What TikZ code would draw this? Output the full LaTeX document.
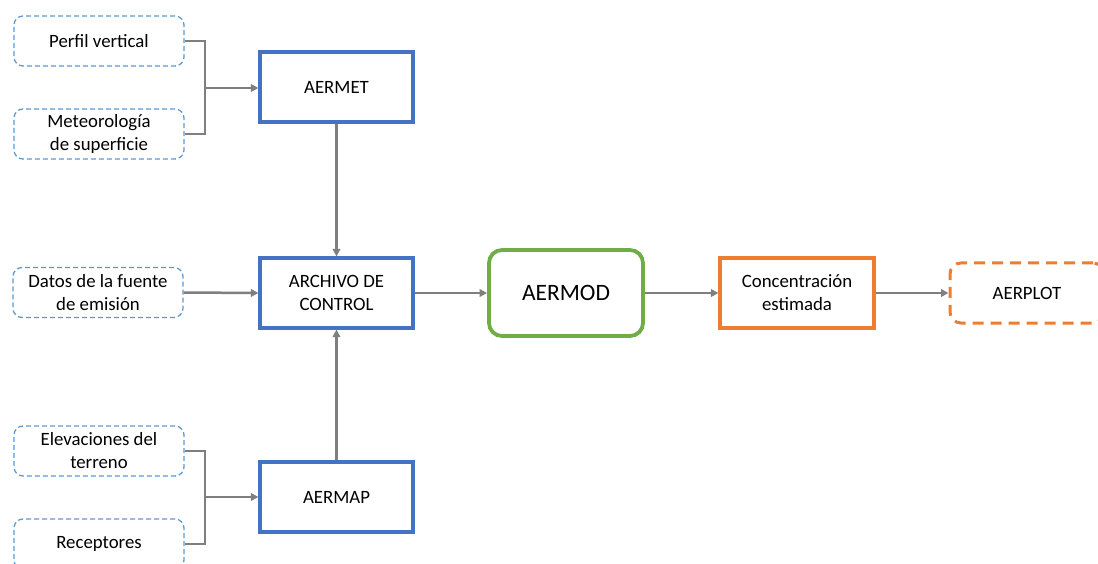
\documentclass[tikz,border=0pt]{standalone}
\usepackage{fontspec}
\setmainfont{Carlito}
\usetikzlibrary{arrows.meta}
\definecolor{bluebox}{HTML}{4472C4}
\definecolor{lightblue}{HTML}{5B9BD5}
\definecolor{greenbox}{HTML}{70AD47}
\definecolor{orangebox}{HTML}{ED7D31}
\definecolor{arrowgray}{HTML}{7F7F7F}
\begin{document}
\begin{tikzpicture}[x=1pt,y=-1pt,
  txt/.style={align=center, font=\fontsize{18.8}{23}\selectfont, inner sep=0pt},
  inbox/.style={txt, draw=lightblue, dashed, dash pattern=on 5pt off 3pt, line width=1.3pt, rounded corners=9pt,
    minimum width=170pt, minimum height=50pt},
  procbox/.style={txt, draw=bluebox, line width=3.1pt, minimum width=153pt, minimum height=70pt},
  modbox/.style={txt, draw=greenbox, line width=3.8pt, rounded corners=13pt, minimum width=154pt, minimum height=86pt,
    font=\fontsize{23.5}{28}\selectfont},
  outbox/.style={txt, draw=orangebox, line width=3.1pt, minimum width=154pt, minimum height=70pt},
  plotbox/.style={txt, draw=orangebox, line width=3pt, dashed, dash pattern=on 11pt off 7pt, rounded corners=11pt,
    minimum width=154pt, minimum height=60pt},
  conn/.style={draw=arrowgray, line width=2.5pt},
  arr/.style={conn, -{Triangle[length=7.5pt,width=7.5pt]}}
]
\useasboundingbox (0,0) rectangle (1098,564);
\fill[white] (0,0) rectangle (1098,564);

\node[inbox] (perfil) at (99,41) {Perfil vertical};
\node[inbox] (meteo) at (99,134) {Meteorología\\de superficie};
\node[inbox] (datos) at (98,292.5) {Datos de la fuente\\de emisión};
\node[inbox] (elev) at (99,451) {Elevaciones del\\terreno};
\node[inbox] (recep) at (99,544) {Receptores};

\node[procbox] (aermet) at (336.5,87) {AERMET};
\node[procbox] (archivo) at (336.5,293) {ARCHIVO DE\\CONTROL};
\node[procbox] (aermap) at (336.5,497) {AERMAP};

\node[modbox] (aermod) at (566,293) {AERMOD};
\node[outbox] (conc) at (797,293) {Concentración\\estimada};
\node[plotbox] (aerplot) at (1027,293) {AERPLOT};

\coordinate (jt) at (205,88);
\coordinate (jb) at (205,497);

\draw[conn] (perfil.east) -| (jt) |- (meteo.east);
\draw[arr] (jt) -- (aermet.west |- jt);
\draw[conn] (elev.east) -| (jb) |- (recep.east);
\draw[arr] (jb) -- (aermap.west);

\draw[arr] (aermet.south) -- (archivo.north);
\draw[arr] (aermap.north) -- (archivo.south);
\draw[arr] (datos.east) -- (archivo.west);
\draw[arr] (archivo.east) -- (aermod.west);
\draw[arr] (aermod.east) -- (conc.west);
\draw[arr] (conc.east) -- (aerplot.west);
\end{tikzpicture}
\end{document}
